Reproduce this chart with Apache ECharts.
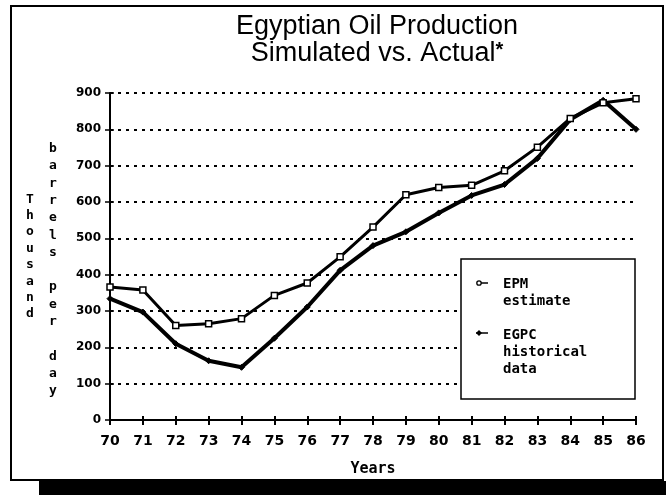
<!DOCTYPE html>
<html>
<head>
<meta charset="utf-8">
<script src="https://cdn.jsdelivr.net/npm/echarts@6/dist/echarts.min.js"></script>
<style>html,body{margin:0;padding:0;background:#fff;}#c{width:666px;height:495px;}</style>
</head>
<body>
<div id="c"></div>
<script>
var years = ['70','71','72','73','74','75','76','77','78','79','80','81','82','83','84','85','86'];
var epmEstimate = [366, 358, 260, 265, 279, 343, 377, 449, 531, 620, 640, 646, 686, 751, 830, 873, 884];
var egpcHistorical = [334, 297, 210, 163, 145, 225, 311, 412, 480, 518, 570, 618, 648, 720, 827, 880, 800];
var seriesNames = ['EPM estimate', 'EGPC historical data'];
var legendLabels = ['EPM\nestimate', 'EGPC\nhistorical\ndata'];
var titleLines = ['Egyptian Oil Production', 'Simulated vs. Actual'];
var yName1 = 'Thousand';
var yName2 = 'barrels per day';
var xName = 'Years';

var chart = echarts.init(document.getElementById('c'), null, {renderer: 'canvas'});
var mono = 'DejaVu Sans Mono';
function vert(s){ return s.split('').join('\n'); }

var option = {
  backgroundColor: '#fff',
  animation: false,
  title: {
    text: titleLines[0] + '\n' + titleLines[1] + '{s|*}',
    left: 372, top: 8, textAlign: 'center',
    textStyle: {
      fontFamily: 'Liberation Sans', fontSize: 27, fontWeight: 'normal', color: '#000', lineHeight: 27,
      rich: { s: { fontFamily: 'Liberation Sans', fontSize: 20, fontWeight: 'bold', verticalAlign: 'top', lineHeight: 27, color: '#000' } }
    }
  },
  grid: { left: 110, right: 30, top: 93, bottom: 75, containLabel: false },
  xAxis: [{
    type: 'category', data: years, boundaryGap: false,
    name: xName, nameLocation: 'middle', nameGap: 42,
    nameTextStyle: { fontFamily: mono, fontWeight: 'bold', fontSize: 15, color: '#000' },
    axisLine: { lineStyle: { color: '#000', width: 2 } },
    axisTick: { show: true, length: 5, lineStyle: { color: '#000', width: 2 } },
    axisLabel: { margin: 14, fontFamily: 'DejaVu Sans', fontWeight: 'bold', fontSize: 14, color: '#000' },
    splitLine: { show: false }
  }, {
    type: 'category', data: years, boundaryGap: false, position: 'bottom',
    axisLine: { show: false },
    axisTick: { show: true, inside: true, length: 4, lineStyle: { color: '#000', width: 2 } },
    axisLabel: { show: false }, splitLine: { show: false }
  }],
  yAxis: [{
    type: 'value', min: 0, max: 900, interval: 100,
    axisLine: { show: true, lineStyle: { color: '#000', width: 2 } },
    axisTick: { show: true, length: 5, lineStyle: { color: '#000', width: 1.5 } },
    axisLabel: { margin: 9, fontFamily: 'DejaVu Sans', fontWeight: 'bold', fontSize: 12, color: '#000' },
    splitLine: { show: true, lineStyle: { color: '#000', type: [3, 5], width: 1.8 } }
  }, {
    type: 'value', min: 0, max: 900, interval: 100, position: 'left',
    axisLine: { show: false },
    axisTick: { show: true, inside: true, length: 4, lineStyle: { color: '#000', width: 1.5 } },
    axisLabel: { show: false }, splitLine: { show: false }
  }],
  series: [{
    name: seriesNames[0], type: 'line', data: epmEstimate,
    symbol: 'rect', symbolSize: 6, showAllSymbol: true,
    lineStyle: { color: '#000', width: 3 },
    itemStyle: { color: '#fff', borderColor: '#000', borderWidth: 1.5 },
    z: 3
  }, {
    name: seriesNames[1], type: 'line', data: egpcHistorical,
    symbol: 'diamond', symbolSize: 6, showAllSymbol: true,
    lineStyle: { color: '#000', width: 4 },
    itemStyle: { color: '#000', borderColor: '#000' },
    z: 2
  }],
  graphic: [
    { type: 'rect', shape: { x: 11, y: 6, width: 652, height: 474 }, style: { fill: null, stroke: '#000', lineWidth: 2 }, silent: true },
    { type: 'rect', shape: { x: 39, y: 481, width: 627, height: 14 }, style: { fill: '#000' }, silent: true },
    { type: 'text', x: 30, y: 191, style: { text: vert(yName1), fontFamily: mono, fontWeight: 'bold', fontSize: 13, lineHeight: 16.4, fill: '#000', textAlign: 'center', textVerticalAlign: 'top' } },
    { type: 'text', x: 53, y: 140, style: { text: vert(yName2), fontFamily: mono, fontWeight: 'bold', fontSize: 13, lineHeight: 17.3, fill: '#000', textAlign: 'center', textVerticalAlign: 'top' } },
    { type: 'rect', shape: { x: 461, y: 259, width: 174, height: 140 }, style: { fill: '#fff', stroke: '#000', lineWidth: 1.5 }, z: 10 },
    { type: 'line', shape: { x1: 478, y1: 283, x2: 488, y2: 283 }, style: { stroke: '#000', lineWidth: 1.5 }, z: 11 },
    { type: 'circle', shape: { cx: 479, cy: 283, r: 2.2 }, style: { fill: '#fff', stroke: '#000', lineWidth: 1.3 }, z: 12 },
    { type: 'line', shape: { x1: 476, y1: 333, x2: 488, y2: 333 }, style: { stroke: '#000', lineWidth: 1.5 }, z: 11 },
    { type: 'polygon', shape: { points: [[479, 330], [482, 333], [479, 336], [476, 333]] }, style: { fill: '#000' }, z: 12 },
    { type: 'text', x: 503, y: 276, style: { text: legendLabels[0], fontFamily: mono, fontWeight: 'bold', fontSize: 14, lineHeight: 17, fill: '#000', textVerticalAlign: 'top' }, z: 12 },
    { type: 'text', x: 503, y: 327, style: { text: legendLabels[1], fontFamily: mono, fontWeight: 'bold', fontSize: 14, lineHeight: 17, fill: '#000', textVerticalAlign: 'top' }, z: 12 }
  ]
};
chart.setOption(option);
</script>
</body>
</html>
